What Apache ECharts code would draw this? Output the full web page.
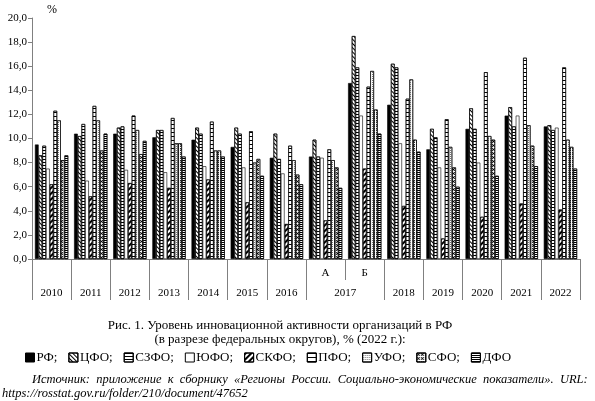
<!DOCTYPE html>
<html>
<head>
<meta charset="utf-8">
<script src="https://cdn.jsdelivr.net/npm/echarts@6/dist/echarts.min.js"></script>
<style>
  html, body { margin: 0; padding: 0; background: #fff; }
  #container { width: 595px; height: 401px; }
</style>
</head>
<body>
<div id="container"></div>
<script>
var categories = ['2010', '2011', '2012', '2013', '2014', '2015', '2016', '2017 А', '2017 Б', '2018', '2019', '2020', '2021', '2022'];
var seriesNames = ['РФ', 'ЦФО', 'СЗФО', 'ЮФО', 'СКФО', 'ПФО', 'УФО', 'СФО', 'ДФО'];

var rf   = [9.5, 10.4, 10.4, 10.1, 9.9, 9.3, 8.4, 8.5, 14.6, 12.8, 9.1, 10.8, 11.9, 11.0];
var cfo  = [8.6, 10.2, 10.9, 10.7, 10.9, 10.9, 10.4, 9.9, 18.5, 16.2, 10.8, 12.5, 12.6, 11.1];
var szfo = [9.4, 11.2, 11.0, 10.7, 10.4, 10.4, 8.3, 8.5, 15.9, 15.9, 10.1, 10.8, 11.0, 10.7];
var yufo = [7.5, 6.5, 7.4, 7.2, 7.7, 7.6, 7.1, 8.4, 11.9, 9.6, 7.6, 8.0, 11.9, 10.9];
var skfo = [6.2, 5.2, 6.3, 5.9, 6.6, 4.7, 2.9, 3.2, 7.5, 4.4, 1.7, 3.5, 4.6, 4.1];
var pfo  = [12.3, 12.7, 11.9, 11.7, 11.4, 10.6, 9.4, 9.1, 14.3, 13.3, 11.6, 15.5, 16.7, 15.9];
var ufo  = [11.5, 11.5, 10.7, 9.6, 9.0, 8.0, 8.2, 8.2, 15.6, 14.9, 9.3, 10.2, 11.1, 9.9];
var sfo  = [8.2, 9.0, 8.7, 9.6, 9.0, 8.3, 7.0, 7.6, 12.4, 9.9, 7.6, 9.9, 9.4, 9.3];
var dfo  = [8.6, 10.4, 9.8, 8.5, 8.5, 6.9, 6.2, 5.9, 10.4, 8.9, 6.0, 6.9, 7.7, 7.5];

var yTicks = [0, 2, 4, 6, 8, 10, 12, 14, 16, 18, 20];

var FONT = 'Liberation Serif';

// year groups (2017 has two sub-columns А / Б)
var years = categories.map(function (c) { return c.split(' ')[0]; });
var bounds = [0], centers = [], centerLabels = [];
for (var i = 1; i <= years.length; i++) {
    if (i === years.length || years[i] !== years[i - 1]) {
        var start = bounds[bounds.length - 1];
        centers.push((start + i) / 2);
        centerLabels.push(years[i - 1]);
        bounds.push(i);
    }
}

function hatch(dy, rot, col) {
    return { symbol: 'rect', symbolSize: 1, dashArrayX: [1, 0], dashArrayY: dy, rotation: rot, color: col || '#000' };
}
var decals = [
    null,
    hatch([1, 1.6], Math.PI / 4),
    hatch([1, 2], 0),
    null,
    hatch([2, 1.2], -Math.PI / 4),
    hatch([1, 2.6], 0),
    { symbol: 'rect', symbolSize: 1, dashArrayX: [1, 1], dashArrayY: [1, 1], color: '#777' },
    { symbol: 'path://M0,0L2,0L5,3L8,0L10,0L10,2L7,5L10,8L10,10L8,10L5,7L2,10L0,10L0,8L3,5L0,2Z', symbolSize: 1, dashArrayX: [3, 0.6], dashArrayY: [3, 0.6], color: '#000' },
    hatch([1, 1], 0)
];
var values = [rf, cfo, szfo, yufo, skfo, pfo, ufo, sfo, dfo];

var series = seriesNames.map(function (name, k) {
    var style = { color: k === 0 ? '#000' : '#fff', borderColor: '#000', borderWidth: 0.6 };
    if (decals[k]) style.decal = decals[k];
    return {
        name: name,
        type: 'bar',
        data: values[k],
        barGap: '0%',
        barCategoryGap: '15%',
        itemStyle: style
    };
});

var dom = document.getElementById('container');
var myChart = echarts.init(dom, null, { renderer: 'canvas' });

var option = {
    animation: false,
    textStyle: { fontFamily: FONT, color: '#000' },
    grid: { left: 32, right: 15, top: 18, bottom: 142, containLabel: false },
    legend: {
        data: seriesNames,
        left: 20,
        top: 346,
        itemWidth: 9,
        itemHeight: 9,
        itemGap: 11,
        icon: 'rect',
        itemStyle: { borderColor: '#000', borderWidth: 1 },
        textStyle: { fontFamily: FONT, fontSize: 13, color: '#000', padding: [0, 0, 0, -3] },
        formatter: function (name) {
            return name === seriesNames[seriesNames.length - 1] ? name : name + ';';
        }
    },
    xAxis: [{
        type: 'category',
        data: categories,
        axisLine: { lineStyle: { color: '#808080', width: 1 } },
        axisTick: { show: true, interval: 0, length: 21, lineStyle: { color: '#808080' } },
        axisLabel: {
            interval: 0, margin: 9, fontFamily: FONT, fontSize: 11, color: '#000',
            formatter: function (v) { return v.split(' ')[1] || ''; }
        }
    }, {
        type: 'value',
        min: 0,
        max: categories.length,
        position: 'bottom',
        axisLine: { show: false },
        splitLine: { show: false },
        axisTick: { show: true, length: 41, customValues: bounds, lineStyle: { color: '#808080' } },
        axisLabel: {
            customValues: centers, margin: 29, fontFamily: FONT, fontSize: 11, color: '#000',
            formatter: function (v) {
                var idx = centers.indexOf(v);
                return idx >= 0 ? centerLabels[idx] : '';
            }
        }
    }],
    yAxis: {
        type: 'value',
        min: yTicks[0],
        max: yTicks[yTicks.length - 1],
        interval: 2,
        name: '%',
        nameLocation: 'end',
        nameGap: 2,
        nameTextStyle: { fontFamily: FONT, fontSize: 12, color: '#000', align: 'left', padding: [0, 0, 0, 15] },
        axisLine: { show: true, lineStyle: { color: '#808080' } },
        axisTick: { show: true, length: 4, lineStyle: { color: '#808080' } },
        splitLine: { show: false },
        axisLabel: {
            margin: 5, fontFamily: FONT, fontSize: 11, color: '#000',
            formatter: function (v) { return v.toFixed(1).replace('.', ','); }
        }
    },
    graphic: [{
        type: 'text', x: 280, y: 319,
        style: {
            text: 'Рис. 1. Уровень инновационной активности организаций в РФ\n(в разрезе федеральных округов), % (2022 г.):',
            font: '13px "Liberation Serif"', fill: '#000', align: 'center', lineHeight: 14
        }
    }, {
        type: 'text', x: 32, y: 373,
        style: {
            text: 'Источник:  приложение  к  сборнику  «Регионы  России.  Социально-экономические  показатели».  URL:',
            font: 'italic 12.5px "Liberation Serif"', fill: '#000'
        }
    }, {
        type: 'text', x: 2, y: 387,
        style: {
            text: 'https://rosstat.gov.ru/folder/210/document/47652',
            font: 'italic 12.5px "Liberation Serif"', fill: '#000'
        }
    }],
    series: series
};
myChart.setOption(option, true);
</script>
</body>
</html>
